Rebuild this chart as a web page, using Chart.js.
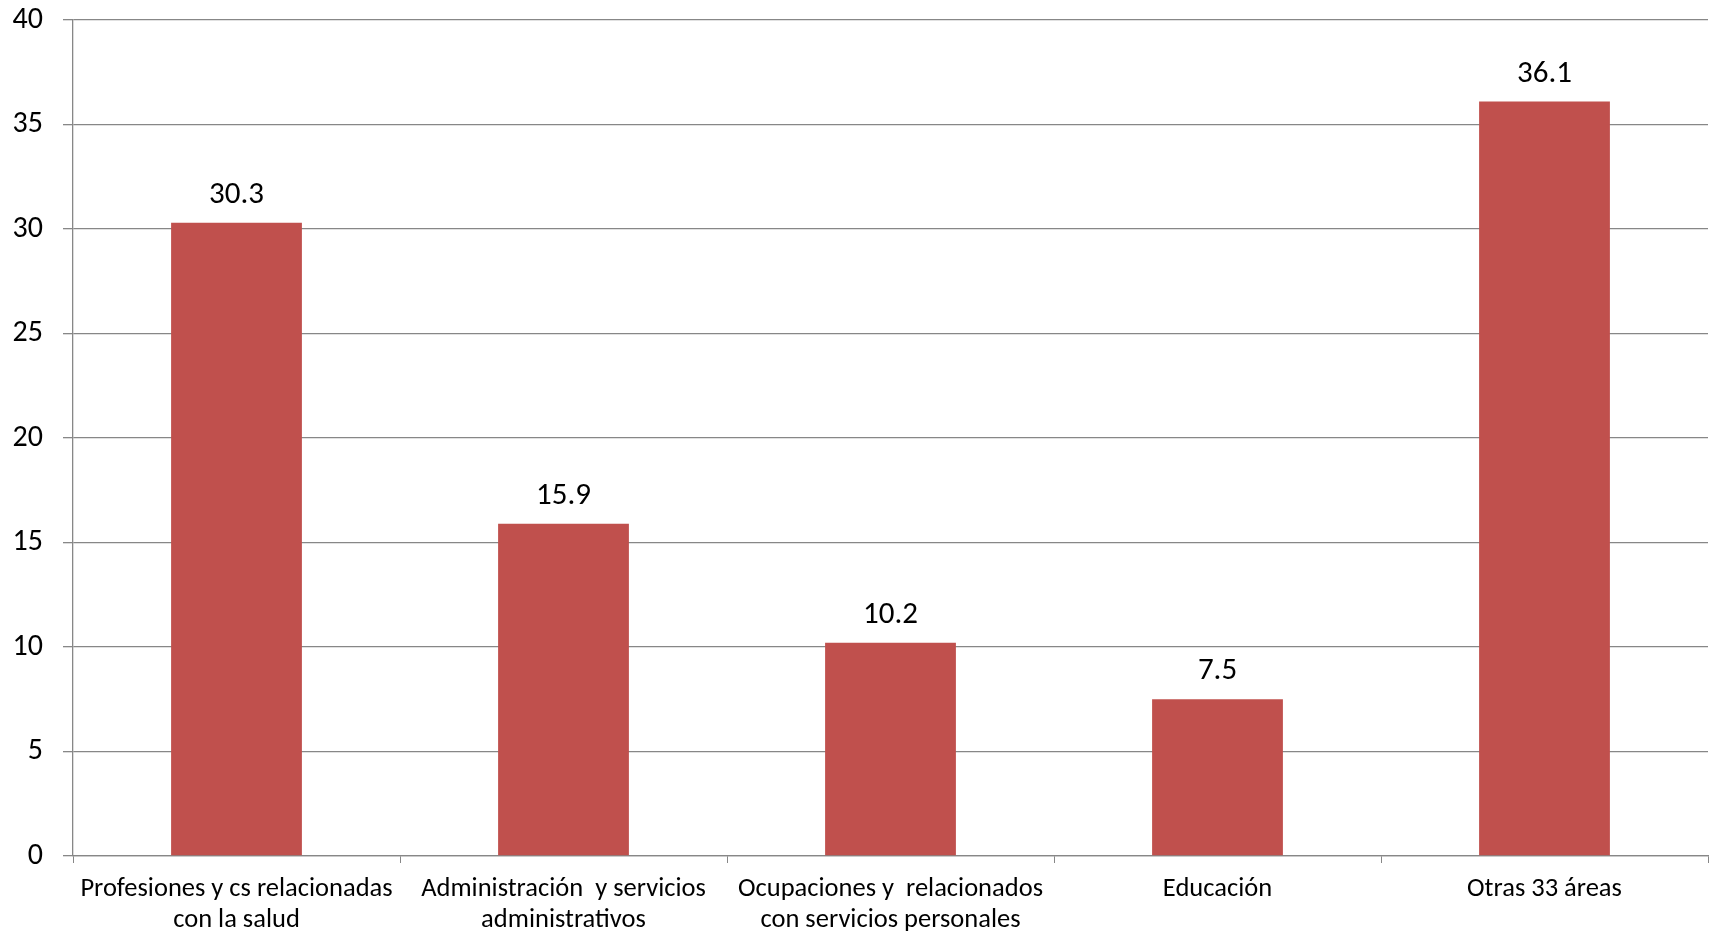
<!DOCTYPE html>
<html>
<head>
<meta charset="utf-8">
<script src="https://cdn.jsdelivr.net/npm/chart.js@4.4.1/dist/chart.umd.min.js"></script>
<style>
  html, body { margin: 0; padding: 0; background: #fff; }
  canvas { display: block; }
</style>
</head>
<body>
<canvas id="chart" width="1714" height="934"></canvas>
<script>
// Datos
const categories = [
  ["Profesiones y cs relacionadas", "con la salud"],
  ["Administración  y servicios", "administrativos"],
  ["Ocupaciones y  relacionados", "con servicios personales"],
  ["Educación"],
  ["Otras 33 áreas"],
];
const values = [30.3, 15.9, 10.2, 7.5, 36.1];
const yMin = 0;
const yMax = 40;
const yStep = 5;

const FONT = "Carlito, Calibri, Lato, sans-serif";
const BAR_COLOR = "#c0504d";
const GRID_COLOR = "#878787";

// Etiquetas de valor sobre cada barra
const valueLabels = {
  id: "valueLabels",
  afterDatasetsDraw(chart) {
    const ctx = chart.ctx;
    const meta = chart.getDatasetMeta(0);
    ctx.save();
    ctx.font = "31px " + FONT;
    ctx.fillStyle = "#000";
    ctx.textAlign = "center";
    ctx.textBaseline = "alphabetic";
    meta.data.forEach((bar, i) => {
      ctx.fillText(values[i].toFixed(1), bar.x, bar.y - 20);
    });
    ctx.restore();
  },
};

new Chart(document.getElementById("chart").getContext("2d"), {
  type: "bar",
  data: {
    labels: categories,
    datasets: [{
      data: values,
      backgroundColor: BAR_COLOR,
      barPercentage: 0.4,
      categoryPercentage: 1,
    }],
  },
  options: {
    responsive: false,
    animation: false,
    devicePixelRatio: 1,
    layout: { padding: { top: 20, right: 6, left: 0, bottom: 0 } },
    plugins: {
      legend: { display: false },
      tooltip: { enabled: false },
    },
    scales: {
      x: {
        grid: {
          display: true,
          drawOnChartArea: false,
          drawTicks: true,
          tickLength: 7,
          color: GRID_COLOR,
          offset: true,
        },
        border: { color: GRID_COLOR, width: 1.3 },
        ticks: {
          color: "#000",
          font: { family: FONT, size: 26.5, lineHeight: 1.2 },
          padding: 10,
          maxRotation: 0,
          autoSkip: false,
        },
        afterFit(scale) { scale.height = 78; },
      },
      y: {
        min: yMin,
        max: yMax,
        ticks: {
          stepSize: yStep,
          color: "#000",
          font: { family: FONT, size: 30 },
          padding: 20,
        },
        grid: { color: GRID_COLOR, lineWidth: 1.3, tickLength: 10 },
        border: { color: GRID_COLOR, width: 1.3 },
        afterFit(scale) {
          scale.width = 73;
          scale.paddingTop = 0;
          scale.paddingBottom = 0;
        },
      },
    },
  },
  plugins: [valueLabels],
});
</script>
</body>
</html>
